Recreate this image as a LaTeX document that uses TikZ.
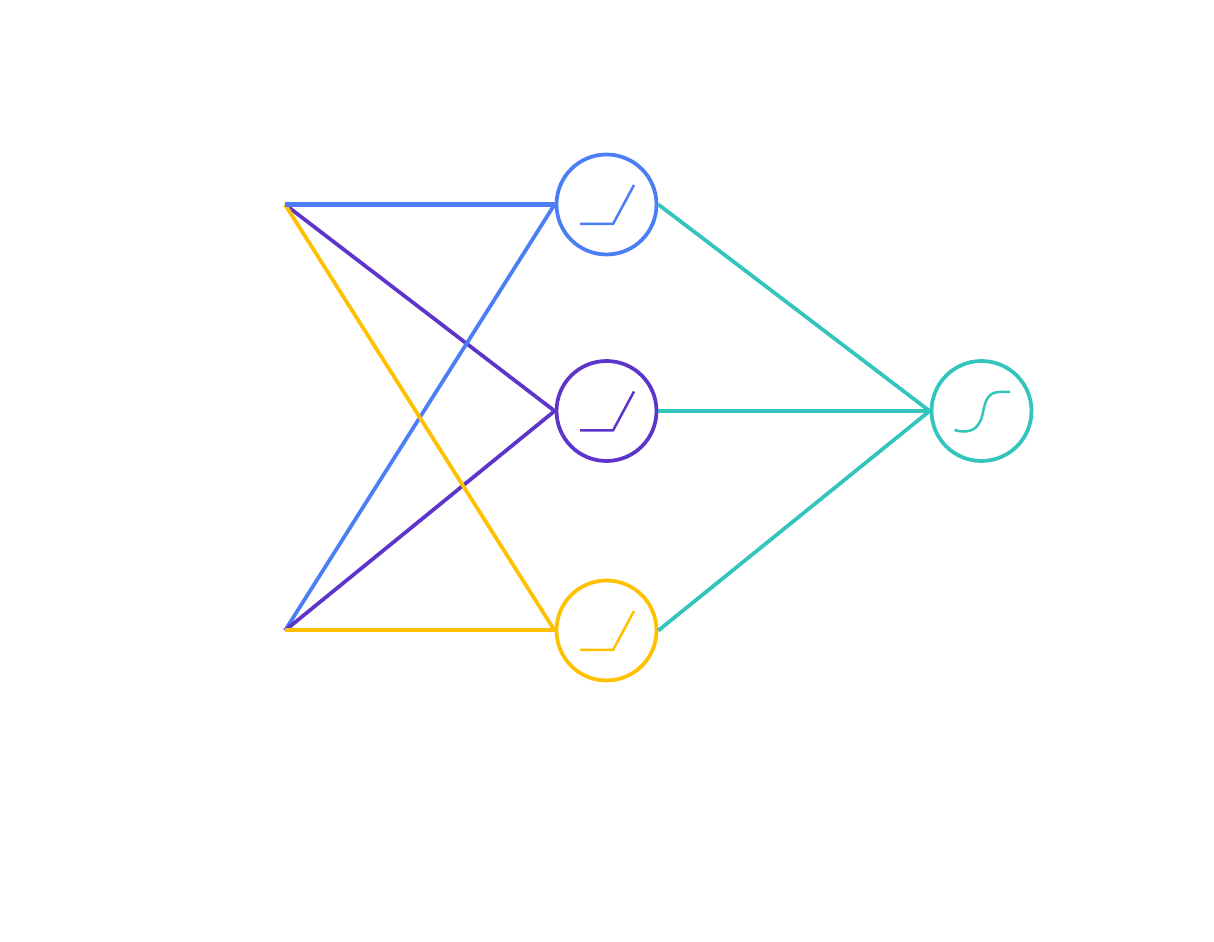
\documentclass[tikz,border=0pt]{standalone}
\usepackage{tikz}
\definecolor{netblue}{RGB}{74,125,246}
\definecolor{netpurple}{RGB}{94,53,203}
\definecolor{netyellow}{RGB}{255,192,0}
\definecolor{netteal}{RGB}{51,196,188}

\begin{document}
\begin{tikzpicture}
	\tikzstyle{unit}=[circle,draw,line width=0.075cm,minimum size=2.0cm,inner sep=0pt]
	\tikzstyle{link}=[line width=0.075cm]
	\tikzstyle{biglink}=[line width=0.095cm]
	\tikzstyle{curve}=[line width=0.05cm,line join=round]
	\useasboundingbox (0,0) rectangle (24.28,18.82);
	\coordinate (in1) at (5.7,14.73);
	\coordinate (in2) at (5.7,6.21);
	\node[unit,netblue] (h1) at (12.13,14.73){};
	\node[unit,netpurple] (h2) at (12.13,10.6){};
	\node[unit,netyellow] (h3) at (12.13,6.21){};
	\node[unit,netteal] (out) at (19.63,10.6){};
	\draw[link,netpurple] (in1) -- (h2.west);
	\draw[link,netblue] (in2) -- (h1.west);
	\draw[link,netpurple] (in2) -- (h2.west);
	\draw[link,netyellow] (in1) -- (h3.west);
	\draw[biglink,netyellow,line width=0.08cm] (in2) -- (h3.west);
	\draw[biglink,netblue] (in1) -- (h1.west);
	\draw[link,netteal] (h1.east) -- (out.west);
	\draw[biglink,netteal] (h2.east) -- (out.west);
	\draw[link,netteal] (h3.east) -- (out.west);
	\foreach \n/\c in {h1/netblue,h2/netpurple,h3/netyellow}
		\draw[curve,\c,shift={(\n)}] (-0.53,-0.39) -- (0.13,-0.39) -- (0.55,0.39);
	\draw[curve,netteal,shift={(out)}] (-0.54,-0.38) .. controls (-0.22,-0.47) and (-0.03,-0.36) .. (0.03,-0.02)
		.. controls (0.08,0.24) and (0.15,0.38) .. (0.37,0.38) -- (0.57,0.38);
\end{tikzpicture}
\end{document}
